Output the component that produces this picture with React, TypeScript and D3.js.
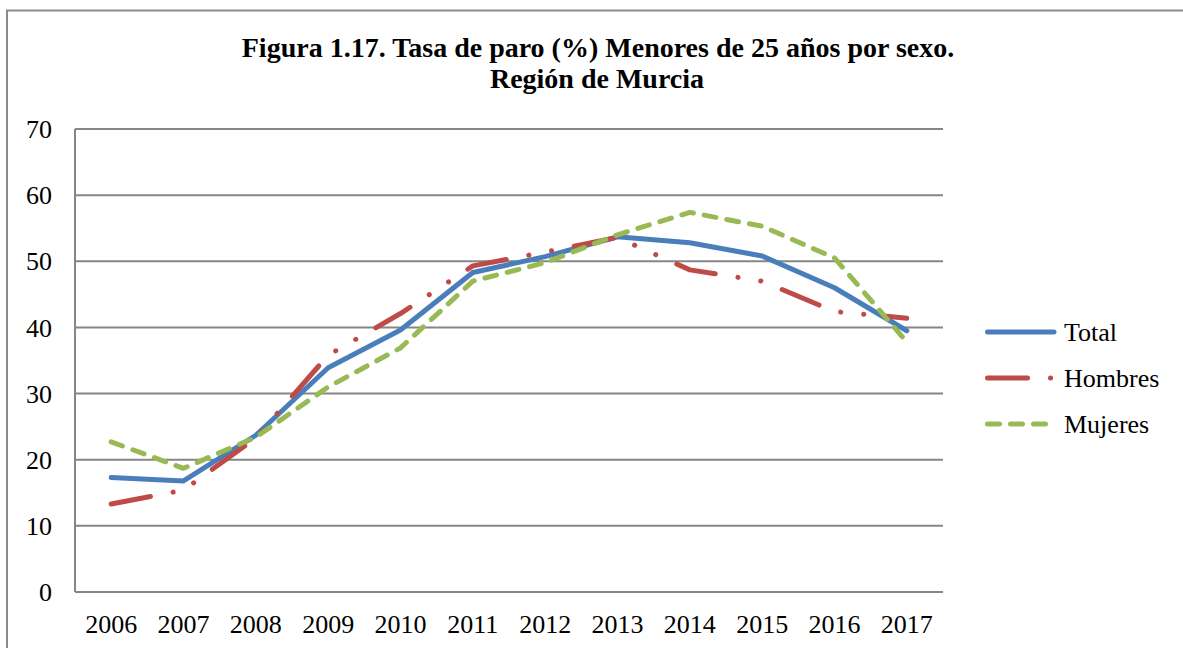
import * as d3 from "d3";

const years = ["2006", "2007", "2008", "2009", "2010", "2011", "2012", "2013", "2014", "2015", "2016", "2017"];
const total = [17.3, 16.8, 23.7, 33.9, 39.6, 48.3, 50.7, 53.7, 52.8, 50.8, 46.0, 39.5];
const hombres = [13.3, 15.4, 23.3, 35.8, 42.1, 49.3, 51.4, 53.6, 48.7, 47.0, 42.4, 41.4];
const mujeres = [22.7, 18.7, 23.4, 31.0, 36.9, 47.0, 49.8, 54.0, 57.4, 55.3, 50.5, 37.8];
const yTicks = [0, 10, 20, 30, 40, 50, 60, 70];

const series = [
  { name: "Total", values: total, color: "#4a7ebb", dash: undefined as string | undefined },
  { name: "Hombres", values: hombres, color: "#be4b48", dash: "40,23,0.1,23,0.1,23" },
  { name: "Mujeres", values: mujeres, color: "#98b954", dash: "12,11" },
];

export default function App() {
  const width = 1183;
  const height = 648;
  const left = 75;
  const right = 943;
  const top = 129;
  const bottom = 592;
  const font = "'Liberation Serif', 'Times New Roman', serif";

  const x = d3.scalePoint<string>().domain(years).range([left, right]).padding(0.5);
  const y = d3.scaleLinear().domain([0, 70]).range([bottom, top]);
  const line = d3
    .line<number>()
    .x((_, i) => x(years[i]) as number)
    .y(d => y(d));

  return (
    <svg
      width={width}
      height={height}
      style={{ position: "absolute", left: 0, top: 0, background: "#fff" }}
      fontFamily={font}
    >
      <rect x={7} y={10.5} width={1200} height={700} fill="none" stroke="#8c8c8c" strokeWidth={2} />
      <text x={598} y={57} textAnchor="middle" fontWeight="bold" fontSize={28}>
        Figura 1.17. Tasa de paro (%) Menores de 25 años por sexo.
      </text>
      <text x={597} y={88} textAnchor="middle" fontWeight="bold" fontSize={28}>
        Región de Murcia
      </text>
      {yTicks.map(t => (
        <g key={t}>
          <line x1={left} x2={right} y1={y(t)} y2={y(t)} stroke="#868686" strokeWidth={2} />
          <text x={52} y={y(t)} dy="0.35em" textAnchor="end" fontSize={26}>
            {t}
          </text>
        </g>
      ))}
      <line x1={left} x2={left} y1={top} y2={bottom} stroke="#868686" strokeWidth={2} />
      {years.map(yr => (
        <text key={yr} x={x(yr)} y={633} textAnchor="middle" fontSize={26}>
          {yr}
        </text>
      ))}
      {series.map(s => (
        <path
          key={s.name}
          d={line(s.values) ?? undefined}
          fill="none"
          stroke={s.color}
          strokeWidth={5}
          strokeLinecap="round"
          strokeLinejoin="round"
          strokeDasharray={s.dash}
        />
      ))}
      {series.map((s, i) => {
        const ly = 332 + i * 46;
        return (
          <g key={s.name}>
            <line
              x1={987.5}
              x2={1054}
              y1={ly}
              y2={ly}
              stroke={s.color}
              strokeWidth={5}
              strokeLinecap="round"
              strokeDasharray={s.dash}
            />
            <text x={1064} y={ly} dy="0.35em" fontSize={26}>
              {s.name}
            </text>
          </g>
        );
      })}
    </svg>
  );
}
